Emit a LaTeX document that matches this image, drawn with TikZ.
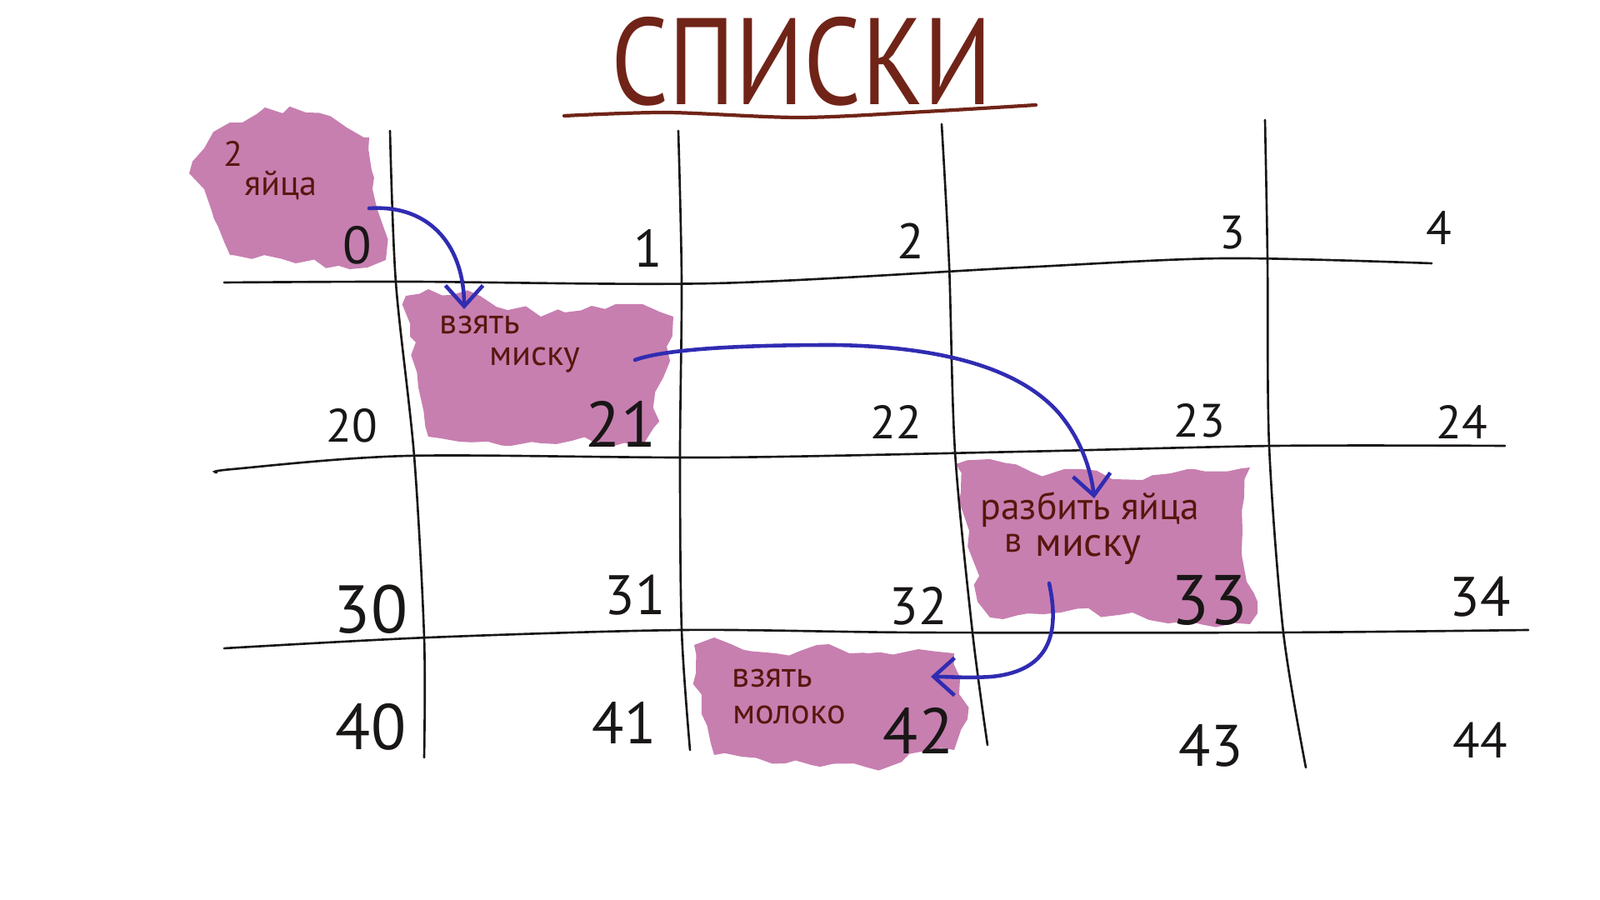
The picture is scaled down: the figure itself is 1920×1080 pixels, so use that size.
\documentclass[tikz,border=0pt]{standalone}
\usepackage{fontspec}
\setmainfont{PT Sans}
\usepackage{tikz}
\usetikzlibrary{arrows.meta,decorations.pathmorphing}
\definecolor{inkblack}{RGB}{25, 22, 22}
\definecolor{titlebrown}{RGB}{112, 36, 24}
\definecolor{notebrown}{RGB}{88, 22, 14}
\definecolor{blobpink}{RGB}{199, 127, 176}
\definecolor{linkblue}{RGB}{48, 44, 178}

\begin{document}
\begin{tikzpicture}[x=0.01cm,y=-0.01cm,
    gridline/.style={line width=0.75pt,inkblack,line cap=round},
    blob/.style={fill=blobpink,line join=round,decorate,decoration={random steps,segment length=5pt,amplitude=1.8pt}},
    note/.style={notebrown,inner sep=0pt,font=\fontsize{12}{14}\selectfont},
    cellnum/.style={inkblack,inner sep=0pt},
    link/.style={linkblue,line width=1.3pt,line cap=round,-{Straight Barb[length=2.5mm,width=4.5mm]}}]
    \useasboundingbox (0,0) rectangle (1920,1080);
    \node[titlebrown,font=\fontsize{42}{46}\selectfont,xscale=0.82] (title) at (962,74) {СПИСКИ};
    \draw[titlebrown,line width=1.2pt,line cap=round] plot[smooth] coordinates {(677,139) (800,135) (960,141) (1110,134) (1243,126)};
    \fill[blob] (227,208) -- (245,178) -- (276,147) -- (318,129) -- (367,135) -- (416,153) -- (443,165) -- (447,227) -- (459,269) -- (463,312) -- (441,321) -- (355,316) -- (276,306) -- (257,263) -- (245,227) -- cycle;
    \fill[blob] (487,355) -- (514,347) -- (576,355) -- (649,380) -- (710,367) -- (771,365) -- (808,380) -- (796,453) -- (784,514) -- (771,535) -- (686,529) -- (551,530) -- (514,524) -- (502,465) -- (492,404) -- cycle;
    \fill[blob] (1147,557) -- (1188,551) -- (1237,566) -- (1298,563) -- (1371,576) -- (1433,563) -- (1500,561) -- (1491,637) -- (1496,698) -- (1509,722) -- (1500,749) -- (1433,747) -- (1359,735) -- (1273,735) -- (1188,741) -- (1173,722) -- (1163,637) -- cycle;
    \fill[blob] (833,774) -- (857,765) -- (931,784) -- (980,774) -- (1041,784) -- (1102,779) -- (1145,784) -- (1151,833) -- (1161,863) -- (1145,900) -- (1041,921) -- (943,916) -- (857,906) -- (842,857) -- (835,808) -- cycle;
    \draw[gridline] plot[smooth] coordinates {(269,339) (490,338) (857,340) (1225,321) (1469,310) (1718,316)};
    \draw[gridline] plot[smooth] coordinates {(260,567) (279,563) (490,547) (857,549) (1225,542) (1531,535) (1806,535)};
    \draw[gridline] plot[smooth] coordinates {(269,778) (514,765) (820,756) (1102,759) (1531,759) (1834,756)};
    \draw[gridline] plot[smooth] coordinates {(468,157) (475,339) (497,547) (509,765) (509,909)};
    \draw[gridline] plot[smooth] coordinates {(814,157) (818,339) (816,547) (818,756) (828,900)};
    \draw[gridline] plot[smooth] coordinates {(1130,149) (1139,318) (1146,542) (1167,759) (1185,894)};
    \draw[gridline] plot[smooth] coordinates {(1518,144) (1521,312) (1523,535) (1540,759) (1567,921)};
    \foreach \n/\x/\y/\s in {0/429/294/18, 1/778/298/18, 2/1093/289/17, 3/1479/279/16, 4/1727/274/16,
        20/422/511/16, 21/745/509/22, 22/1075/506/16, 23/1439/505/16, 24/1754/506/16,
        30/445/731/23, 31/762/714/19, 32/1102/727/18, 33/1451/720/24, 34/1776/716/19,
        40/445/872/22, 41/749/867/20, 42/1102/877/22, 43/1453/895/20, 44/1776/888/17}
        \node[cellnum,font=\fontsize{\s}{\s}\selectfont] (cell\n) at (\x,\y) {\n};
    \node[note] (eggs-n) at (280,184) {2};
    \node[note] (eggs) at (337,222) {яйца};
    \node[note] (bowl) at (576,390) {взять};
    \node[note] (bowl-b) at (642,432) {миску};
    \node[note,font=\fontsize{13}{15}\selectfont] (break) at (1308,612) {разбить яйца};
    \node[note] (break-b) at (1216,652) {в};
    \node[note,font=\fontsize{14}{16}\selectfont] (break-c) at (1306,660) {миску};
    \node[note] (milk) at (927,814) {взять};
    \node[note] (milk-b) at (947,858) {молоко};
    \coordinate (eggs-out) at (443,250);
    \coordinate (bowl-in) at (557,371);
    \coordinate (bowl-out) at (762,432);
    \coordinate (break-in) at (1313,598);
    \coordinate (break-out) at (1259,700);
    \coordinate (milk-in) at (1117,812);
    \draw[link] (eggs-out) .. controls (520,245) and (557,300) .. (bowl-in);
    \draw[link] (bowl-out) .. controls (800,418) and (900,414) .. (1000,414) .. controls (1150,416) and (1230,450) .. (1270,495) .. controls (1300,530) and (1310,570) .. (break-in);
    \draw[link] (break-out) .. controls (1272,760) and (1260,805) .. (1190,812) .. controls (1160,814) and (1140,812) .. (milk-in);
\end{tikzpicture}
\end{document}
